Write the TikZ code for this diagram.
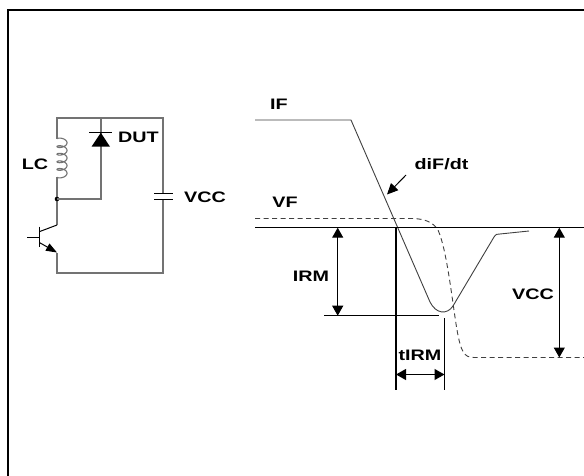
\documentclass[tikz,border=0pt]{standalone}
\usepackage{fontspec}
\usepackage{graphicx}
\newfontfamily\lblfam{Liberation Sans Bold}
\newcommand{\widelbl}[1]{\scalebox{1.3}[1]{#1}}
\usetikzlibrary{arrows.meta}
\tikzset{
  lbl/.style={font=\lblfam\fontsize{15.2}{17}\selectfont, inner sep=0pt},
  wire/.style={draw=black!55, line width=1.1pt},
  blk/.style={draw=black, line width=1pt},
  frame/.style={draw=black, line width=2pt},
  axisline/.style={draw=black, line width=1.2pt},
  wave/.style={draw=black!75, line width=0.9pt},
  dashwave/.style={draw=black!75, line width=0.9pt, dash pattern=on 5pt off 3.5pt},
  dim/.style={draw=black, line width=1.1pt, {Triangle[length=10pt,width=11pt]}-{Triangle[length=10pt,width=11pt]}},
  pointer/.style={draw=black, line width=1pt, -{Triangle[length=11pt,width=10pt]}}
}
\begin{document}
\begin{tikzpicture}[x=1pt,y=-1pt]
\useasboundingbox (0,0) rectangle (584,476);
\fill[white] (0,0) rectangle (584,476);
% frame
\draw[frame] (8,476) -- (8,10) -- (584,10);

% ---------------- circuit ----------------
\coordinate (tl) at (57,118);
\coordinate (tr) at (163,118);
\coordinate (br) at (163,273);
\coordinate (bl) at (57,273);
\coordinate (j) at (57,199);
\coordinate (dtop) at (101,118);
\coordinate (dj) at (101,199);
\coordinate (lctop) at (57,139);
\coordinate (lcbot) at (57,177);
\coordinate (captop) at (163,193.3);
\coordinate (capbot) at (163,200);
\coordinate (coll) at (57,225);
\coordinate (emit) at (57,252.5);

\draw[wire] (lctop) -- (tl) -- (tr) -- (captop);
\draw[wire] (capbot) -- (br) -- (bl) -- (emit);
\draw[wire] plot[domain=0:31.416, samples=240, variable=\t]
  ({57+5*(1-cos(\t r))},{139+1.21*\t-2.5*sin(\t r)});
\draw[wire] (lcbot) -- (j) -- (coll);
\fill (j) circle (2.3);
\draw[wire] (j) -- (dj) -- (dtop);
% diode
\fill (91.5,146.7) -- (110,146.7) -- (100.8,132.7) -- cycle;
\draw[blk] (89,132.5) -- (112,132.5);
% capacitor
\draw[blk] (154,193.3) -- (173,193.3);
\draw[blk] (154,200) -- (173,200);
% transistor
\draw[blk] (39.3,226.7) -- (39.3,247.3);
\draw[blk] (27.3,237.3) -- (39.3,237.3);
\draw[blk] (39.3,231.7) -- (coll);
\draw[blk, -{Triangle[length=11pt,width=8pt]}] (39.3,242.5) -- (emit);

\node[lbl] (lc) at (35,164) {\widelbl{LC}};
\node[lbl] (dut) at (138.5,137.5) {\widelbl{DUT}};
\node[lbl] (vcc1) at (205,197) {\widelbl{VCC}};

% ---------------- waveform ----------------
\draw[wave] (255,120) -- (351,120) -- (430,302)
  .. controls (436,314) and (447,315) .. (453,306) -- (494,237)
  .. controls (496,234) and (497,234) .. (500,234) -- (529,231);
\draw[dashwave] (255,218.5) -- (413,218.5)
  .. controls (425,219) and (433,222) .. (438,230)
  .. controls (447,250) and (452,300) .. (457,330)
  .. controls (461,352) and (464,357.5) .. (474,357.5) -- (584,357.5);

\coordinate (a0) at (255,227.7);
\coordinate (a1) at (584,227.7);
\draw[axisline] (a0) -- (a1);
\coordinate (v1t) at (396,227.7);
\coordinate (v1b) at (396,390);
\coordinate (v2t) at (444.5,318);
\coordinate (v2b) at (444.5,390);
\draw[axisline] (v1t) -- (v1b);
\draw[axisline] (v2t) -- (v2b);
\coordinate (h1) at (324,315.7);
\coordinate (h2) at (439,315.7);
\draw[axisline] (h1) -- (h2);

\coordinate (irmT) at (337.7,227.7);
\coordinate (irmB) at (337.7,315.7);
\draw[dim] (irmT) -- (irmB);
\coordinate (vccT) at (559.3,227.7);
\coordinate (vccB) at (559.3,357.5);
\draw[dim] (vccT) -- (vccB);
\coordinate (tL) at (396,374.5);
\coordinate (tR) at (444.5,374.5);
\draw[dim] (tL) -- (tR);
\coordinate (pS) at (406,175);
\coordinate (pE) at (387,194.5);
\draw[pointer] (pS) -- (pE);

\node[lbl] (if) at (279,104.5) {\widelbl{IF}};
\node[lbl] (didt) at (441.5,164) {\widelbl{diF/dt}};
\node[lbl] (vf) at (285,202.5) {\widelbl{VF}};
\node[lbl] (irm) at (311,276.5) {\widelbl{IRM}};
\node[lbl] (vcc2) at (533,294) {\widelbl{VCC}};
\node[lbl] (tirm) at (420,355.5) {\widelbl{tIRM}};
\end{tikzpicture}
\end{document}
